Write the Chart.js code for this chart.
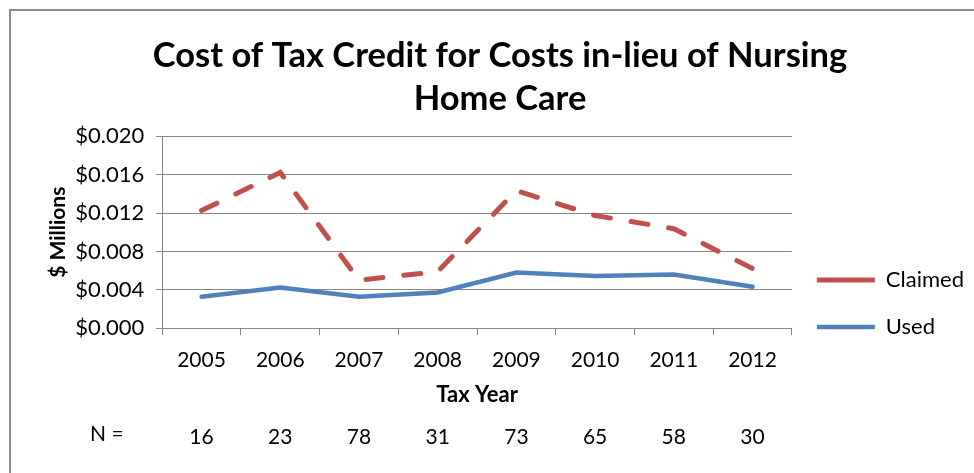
<!DOCTYPE html>
<html>
<head>
<meta charset="utf-8">
<script src="https://cdn.jsdelivr.net/npm/chart.js@4"></script>
<style>
  html, body { margin: 0; padding: 0; background: #fff; overflow: hidden; }
  #wrap { position: relative; width: 974px; height: 473px; }
  #frame { position: absolute; left: 9px; top: 9px; width: 2000px; height: 2000px;
           border: 2px solid #8a8a8a; pointer-events: none; }
</style>
</head>
<body>
<div id="wrap">
  <canvas id="costChart" width="974" height="473"></canvas>
  <div id="frame"></div>
</div>
<script>
const years = ['2005', '2006', '2007', '2008', '2009', '2010', '2011', '2012'];
const claimed = [0.01226, 0.01623, 0.0050, 0.0059, 0.01433, 0.01174, 0.01036, 0.00622];
const used = [0.00327, 0.00425, 0.00327, 0.00373, 0.0058, 0.00545, 0.0056, 0.00431];
const nCounts = ['16', '23', '78', '31', '73', '65', '58', '30'];

const fontName = 'Lato, "Open Sans", sans-serif';
const gridGray = '#868686';

// draws the "N =" label in front of the count row
const nLabel = {
    id: 'nLabel',
    afterDraw(chart) {
        const s = chart.scales.n;
        const ctx = chart.ctx;
        ctx.save();
        ctx.font = '21px ' + fontName;
        ctx.fillStyle = '#000';
        ctx.textAlign = 'left';
        ctx.textBaseline = 'middle';
        ctx.fillText('N =', 90, s.top + s.options.ticks.padding + 18);
        ctx.restore();
    }
};

const ctx = document.getElementById('costChart').getContext('2d');
new Chart(ctx, {
    type: 'line',
    data: {
        labels: years,
        datasets: [
            { label: 'Claimed', data: claimed, borderColor: '#C0504D', backgroundColor: '#C0504D',
              borderWidth: 5, borderDash: [17, 21], borderCapStyle: 'round', pointRadius: 0, tension: 0 },
            { label: 'Used', data: used, borderColor: '#4F81BD', backgroundColor: '#4F81BD',
              borderWidth: 4.5, borderCapStyle: 'round', pointRadius: 0, tension: 0 }
        ]
    },
    options: {
        responsive: false,
        animation: false,
        layout: { padding: { left: 26, right: 0, top: 20, bottom: 13.4 } },
        plugins: {
            title: {
                display: true,
                text: ['Cost of Tax Credit for Costs in-lieu of Nursing', 'Home Care'],
                color: '#000',
                font: { family: fontName, size: 34.5, weight: 'bold', lineHeight: 1.25 },
                padding: { top: 14, bottom: 16 }
            },
            legend: {
                position: 'right',
                align: 'start',
                // blank title only pushes the two items down beside the lower plot
                title: { display: true, text: ' ', color: 'rgba(0,0,0,0)',
                         font: { size: 12, lineHeight: 1.2 }, padding: { top: 0, bottom: 209.6 } },
                labels: {
                    usePointStyle: true,
                    pointStyle: 'line',
                    pointStyleWidth: 58,
                    color: '#000',
                    font: { family: fontName, size: 22 },
                    padding: 25
                }
            },
            tooltip: { enabled: false }
        },
        scales: {
            x: {
                offset: true,
                weight: 0,
                grid: { offset: true, drawOnChartArea: false, drawTicks: true, tickLength: 7, color: gridGray },
                border: { color: gridGray },
                ticks: { color: '#000', font: { family: fontName, size: 21 }, padding: 12 },
                title: { display: true, text: 'Tax Year', color: '#000',
                         font: { family: fontName, size: 22, weight: 'bold', lineHeight: 1 }, padding: { top: 0, bottom: 0 } }
            },
            n: {
                type: 'category',
                labels: nCounts,
                position: 'bottom',
                offset: true,
                weight: 1,
                grid: { display: false },
                border: { display: false },
                ticks: { color: '#000', font: { family: fontName, size: 21 }, padding: 10 }
            },
            y: {
                min: 0,
                max: 0.02,
                grid: { color: gridGray, drawTicks: true, tickLength: 6 },
                border: { color: gridGray },
                ticks: { stepSize: 0.004, color: '#000', font: { family: fontName, size: 22 }, padding: 12,
                         callback: v => '$' + v.toFixed(3) },
                title: { display: true, text: '$ Millions', color: '#000',
                         font: { family: fontName, size: 21, weight: 'bold' }, padding: { top: 20, bottom: -8 } }
            }
        }
    },
    plugins: [nLabel]
});
</script>
</body>
</html>
